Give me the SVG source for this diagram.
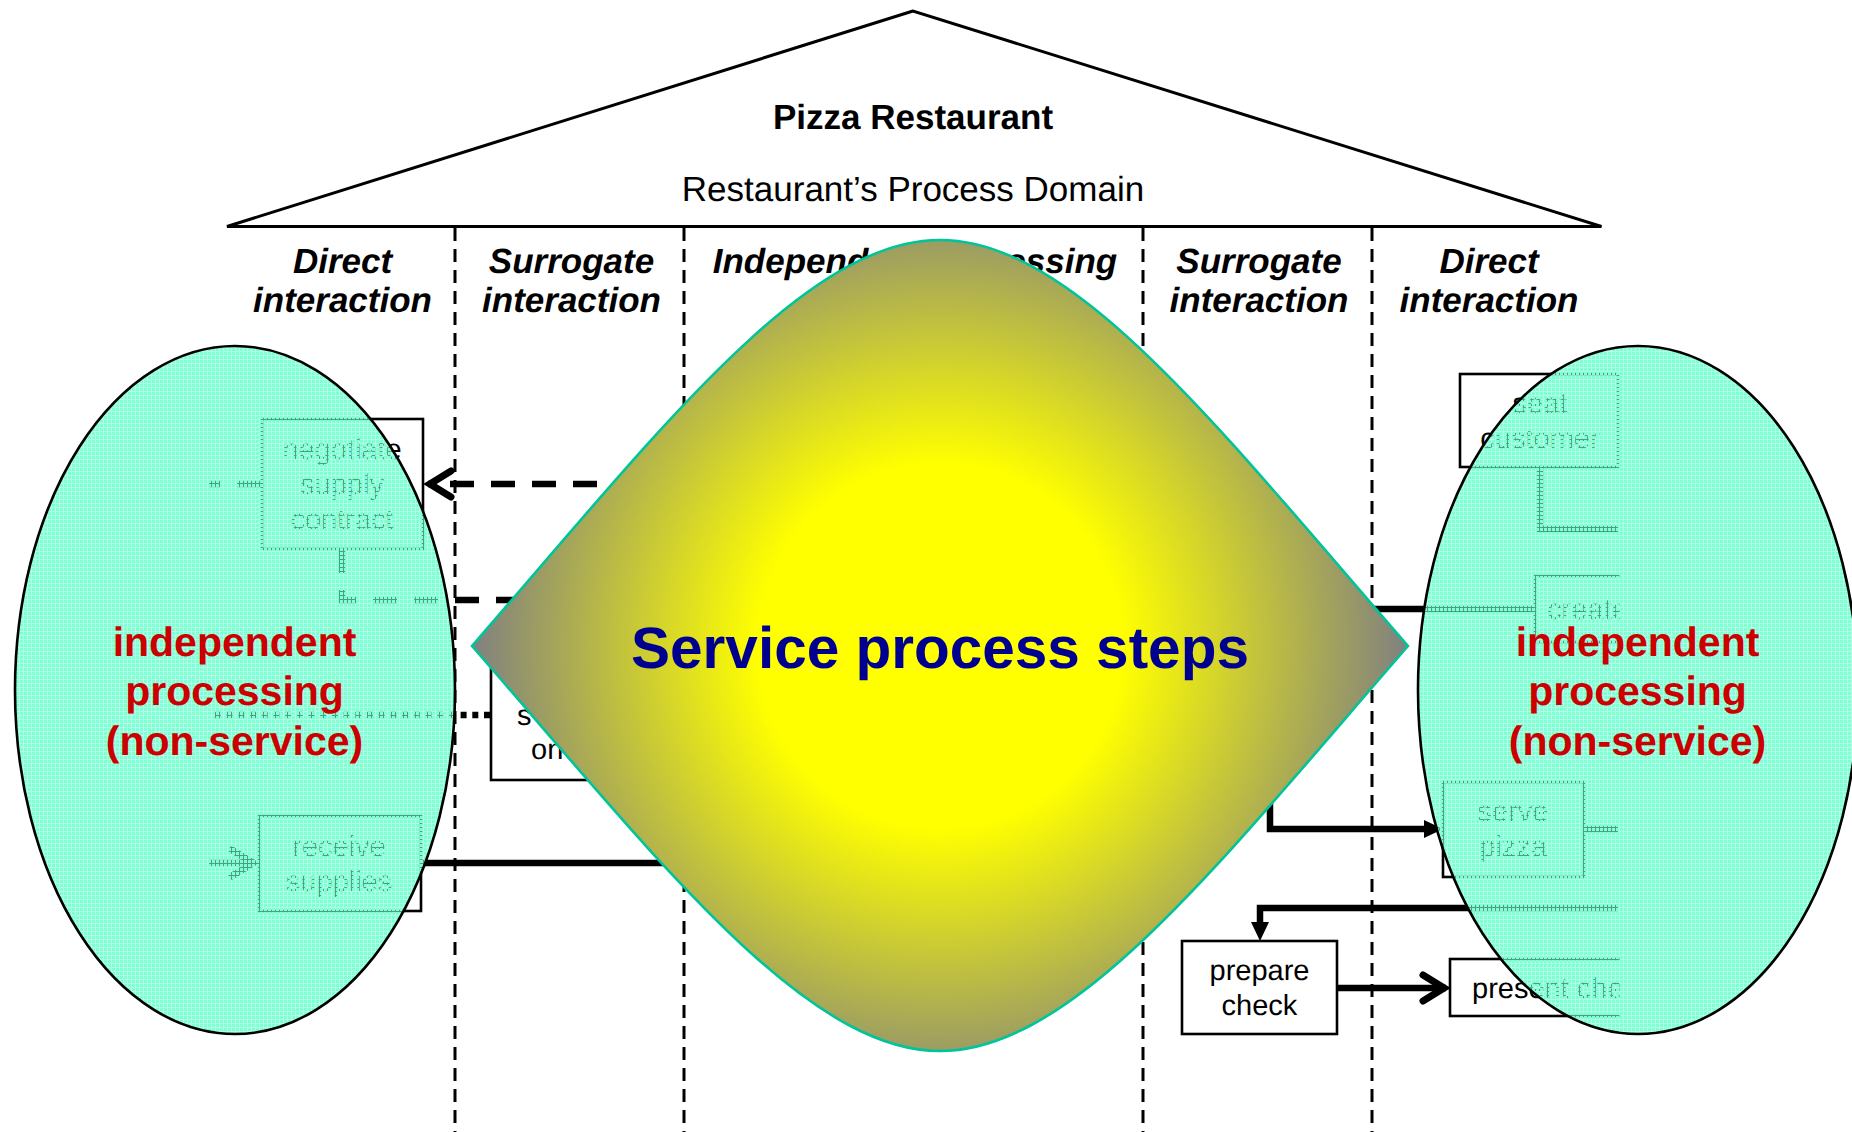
<svg xmlns="http://www.w3.org/2000/svg" width="1852" height="1132" viewBox="0 0 1852 1132">
<style>
text{font-family:"Liberation Sans",Arial,sans-serif;fill:#000;text-rendering:geometricPrecision}
.title{font-size:35px;text-anchor:middle}
.lane{font-size:35px;font-weight:bold;font-style:italic;text-anchor:middle}
.step{font-size:29px;text-anchor:middle}
.box{fill:#fff;stroke:#000;stroke-width:2.6}
.conn{fill:none;stroke:#000;stroke-width:6.500}
.sep{fill:none;stroke:#000;stroke-width:3;stroke-dasharray:13 8}
.red{font-size:41px;font-weight:bold;text-anchor:middle;fill:#cc0000}
.blob{fill:url(#dots);stroke:#000;stroke-width:2.6}
</style>
<defs>
<pattern id="dots" width="4" height="4" patternUnits="userSpaceOnUse">
<rect width="4" height="4" fill="#7fffd4" fill-opacity="0.62" shape-rendering="crispEdges"/>
<rect width="3" height="3" fill="#7fffd4" shape-rendering="crispEdges"/>
</pattern>
<radialGradient id="glow" gradientUnits="userSpaceOnUse" cx="940" cy="646" r="468">
<stop offset="0.39" stop-color="#ffff00"/>
<stop offset="1" stop-color="#808080"/>
</radialGradient>
<marker id="open" markerUnits="userSpaceOnUse" markerWidth="34" markerHeight="36" refX="30" refY="18" orient="auto" viewBox="0 0 34 36">
<path d="M7 5 L28 18 L7 31" fill="none" stroke="#000" stroke-width="7" stroke-linecap="round"/>
</marker>
<marker id="solid" markerUnits="userSpaceOnUse" markerWidth="20" markerHeight="20" refX="1" refY="10" orient="auto" viewBox="0 0 20 20">
<path d="M0 1 L19 10 L0 19 Z" fill="#000"/>
</marker>
<clipPath id="cut"><rect x="0" y="0" width="1619.500" height="1132"/></clipPath>
</defs>
<rect width="1852" height="1132" fill="#fff"/>

<g id="roof">
<path d="M913 11 L227 226.500 H1601.500 Z" fill="#fff" stroke="#000" stroke-width="3"/>
<text class="title" x="913" y="129" style="font-weight:bold">Pizza Restaurant</text>
<text class="title" x="913" y="201">Restaurant’s Process Domain</text>
</g>

<g id="lanes">
<path class="sep" d="M455 228 V1132"/>
<path class="sep" d="M684 228 V1132"/>
<path class="sep" d="M1143 228 V1132"/>
<path class="sep" d="M1372 228 V1132"/>
<text class="lane" x="342.500" y="273">Direct</text>
<text class="lane" x="342.500" y="312">interaction</text>
<text class="lane" x="571.500" y="273">Surrogate</text>
<text class="lane" x="571.500" y="312">interaction</text>
<text class="lane" x="915" y="273">Independent processing</text>
<text class="lane" x="1259" y="273">Surrogate</text>
<text class="lane" x="1259" y="312">interaction</text>
<text class="lane" x="1489" y="273">Direct</text>
<text class="lane" x="1489" y="312">interaction</text>
</g>

<g id="connectors" clip-path="url(#cut)">
<path class="conn" d="M638 484 H428" stroke-dasharray="24 17" marker-end="url(#open)"/>
<path class="conn" d="M261 484 H209" stroke-dasharray="24 17"/>
<path class="conn" d="M342 549 V600 H560" stroke-dasharray="24 17"/>
<path class="conn" d="M490 715 H213" stroke-dasharray="6 5.700"/>
<path class="conn" d="M209 863 H255" marker-end="url(#open)"/>
<path class="conn" d="M421 863 H680"/>
<path class="conn" d="M1540 467 V529 H1618"/>
<path class="conn" d="M1340 609 H1535"/>
<path class="conn" d="M1270 780 V829 H1425" marker-end="url(#solid)"/>
<path class="conn" d="M1584 829 H1618"/>
<path class="conn" d="M1618 908 H1260 V923" marker-end="url(#solid)"/>
<path class="conn" d="M1337 988 H1446" marker-end="url(#open)"/>
</g>

<g id="negotiate-supply-contract">
<rect class="box" x="262" y="419" width="161" height="130"/>
<text class="step" x="342" y="459">negotiate</text>
<text class="step" x="342" y="494">supply</text>
<text class="step" x="342" y="529">contract</text>
</g>
<g id="receive-supplies">
<rect class="box" x="259" y="816" width="162" height="95"/>
<text class="step" x="339" y="856">receive</text>
<text class="step" x="339" y="891">supplies</text>
</g>
<g id="surrogate-order">
<rect class="box" x="491" y="655" width="170" height="125"/>
<text class="step" x="517" y="725" style="text-anchor:start">s</text>
<text class="step" x="531" y="759" style="text-anchor:start">on</text>
</g>
<g id="seat-customer" clip-path="url(#cut)">
<rect class="box" x="1460" y="374" width="158" height="93"/>
<text class="step" x="1540" y="413">seat</text>
<text class="step" x="1540" y="448">customer</text>
</g>
<g id="create" clip-path="url(#cut)">
<rect class="box" x="1535" y="576" width="140" height="66"/>
<text class="step" x="1547" y="619" style="text-anchor:start">create</text>
</g>
<g id="serve-pizza">
<rect class="box" x="1443" y="782" width="141" height="95"/>
<text class="step" x="1513" y="821">serve</text>
<text class="step" x="1513" y="856">pizza</text>
</g>
<g id="prepare-check">
<rect class="box" x="1182" y="941" width="155" height="93"/>
<text class="step" x="1259.500" y="980">prepare</text>
<text class="step" x="1259.500" y="1015">check</text>
</g>
<g id="present-check" clip-path="url(#cut)">
<rect class="box" x="1450" y="959" width="220" height="57"/>
<text class="step" x="1472" y="998" style="text-anchor:start">present check</text>
</g>

<g id="independent-left">
<ellipse class="blob" cx="235" cy="690" rx="220" ry="344"/>
<text class="red" x="234.500" y="656">independent</text>
<text class="red" x="234.500" y="705">processing</text>
<text class="red" x="234.500" y="755">(non-service)</text>
</g>
<g id="independent-right">
<ellipse class="blob" cx="1638" cy="690" rx="220" ry="344"/>
<text class="red" x="1637.500" y="656">independent</text>
<text class="red" x="1637.500" y="705">processing</text>
<text class="red" x="1637.500" y="755">(non-service)</text>
</g>

<g id="service-process-steps">
<path d="M472 646 C660 430 805 240 940 240 C1075 240 1220 430 1408 646 C1220 862 1075 1051 940 1051 C805 1051 660 862 472 646 Z" fill="url(#glow)" stroke="#00c49a" stroke-width="2.600"/>
<text x="940" y="667.500" text-anchor="middle" font-size="58.500" font-weight="bold" style="fill:#000090">Service process steps</text>
</g>
</svg>
